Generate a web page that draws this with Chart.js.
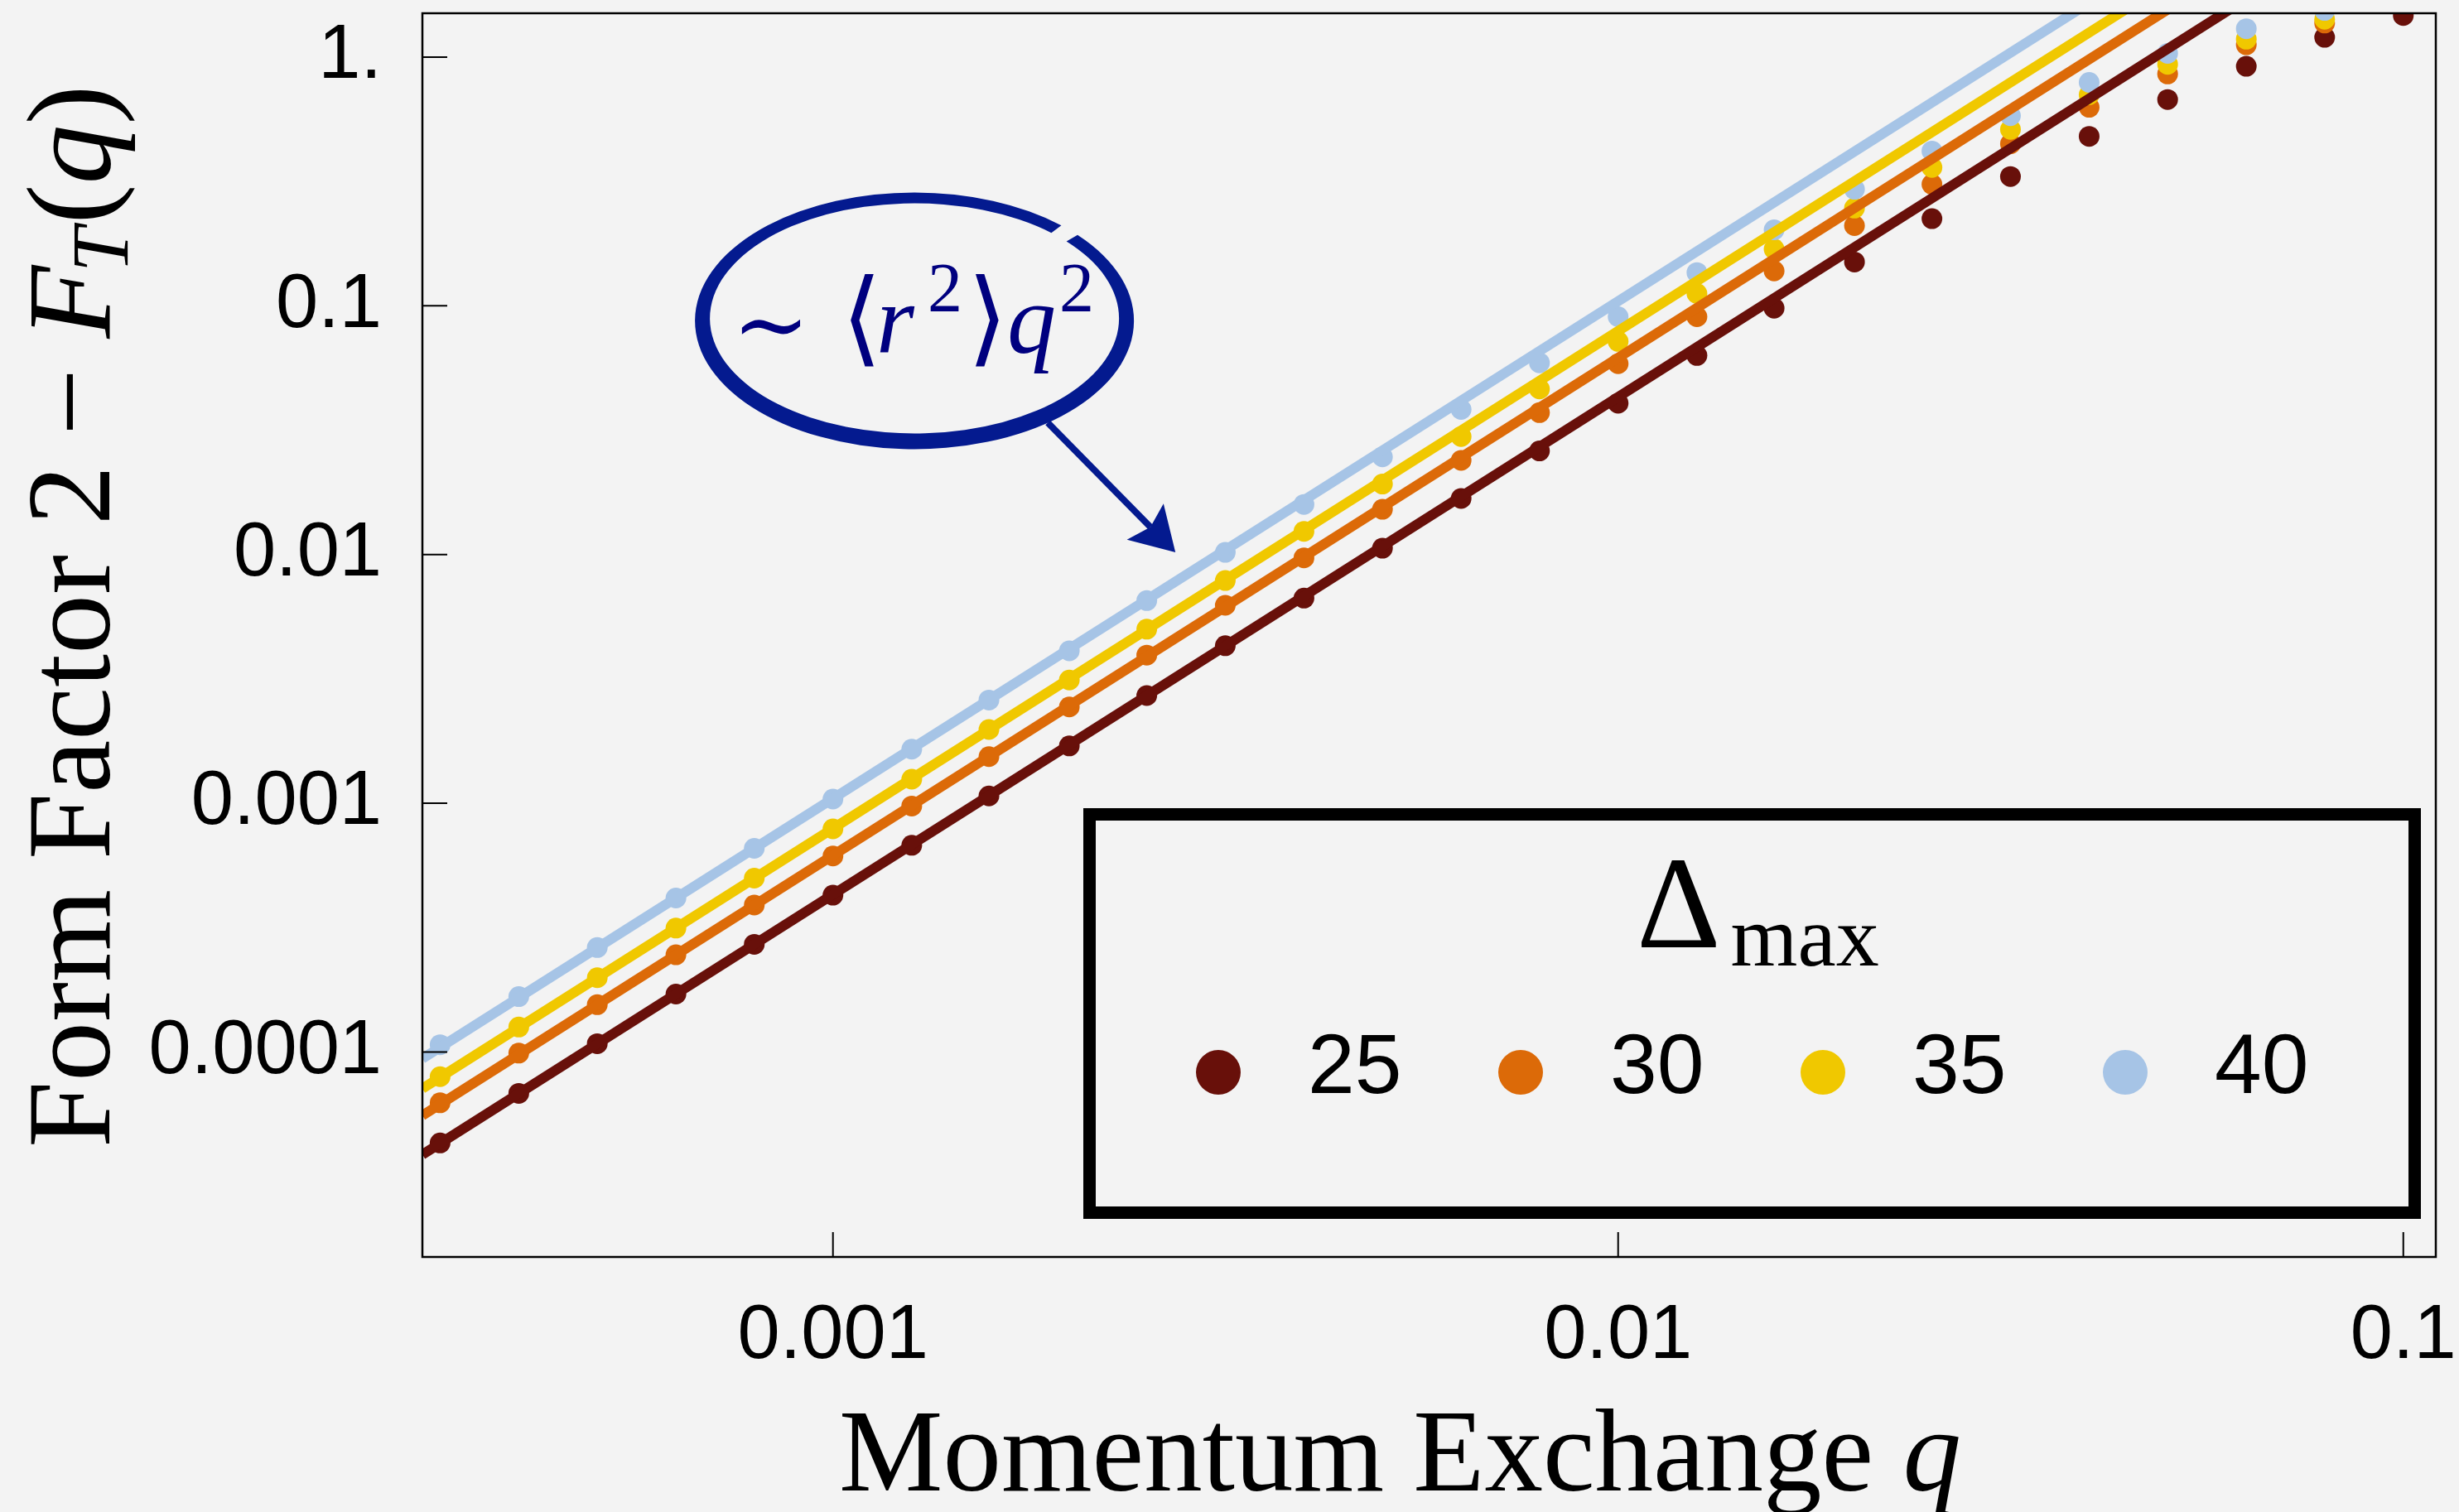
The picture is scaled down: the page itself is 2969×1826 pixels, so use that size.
<!DOCTYPE html>
<html>
<head>
<meta charset="utf-8">
<script src="https://cdn.jsdelivr.net/npm/chart.js@4.4.1/dist/chart.umd.min.js"></script>
<style>
  html, body { margin: 0; padding: 0; background: #f3f3f3; overflow: hidden; }
  #wrap { width: 2969px; height: 1826px; position: relative; }
</style>
</head>
<body>
<div id="wrap"><canvas id="chart"></canvas></div>
<script>
// Form factor vs momentum exchange, log-log, four Delta_max truncations.

// ── Data ────────────────────────────────────────────────────────────────────
const qValues = [
  0.000316, 0.000398, 0.000501, 0.000631, 0.000794, 0.001, 0.00126, 0.00158,
  0.002, 0.00251, 0.00316, 0.00398, 0.00501, 0.00631, 0.00794, 0.01, 0.0126,
  0.0158, 0.02, 0.0251, 0.0316, 0.0398, 0.0501, 0.0631, 0.0794, 0.1,
];
const ff25 = [
  4.31e-5, 6.82e-5, 1.08e-4, 1.71e-4, 2.71e-4, 4.27e-4, 6.78e-4, 1.07e-3,
  1.70e-3, 2.71e-3, 4.30e-3, 6.68e-3, 0.0106, 0.0168, 0.0261, 0.0406, 0.0631,
  0.0978, 0.150, 0.224, 0.331, 0.480, 0.675, 0.918, 1.20, 1.47,
];
const ff30 = [
  6.25e-5, 9.9e-5, 1.55e-4, 2.46e-4, 3.90e-4, 6.14e-4, 9.75e-4, 1.54e-3,
  2.44e-3, 3.94e-3, 6.25e-3, 9.70e-3, 0.0152, 0.0239, 0.0372, 0.0585, 0.0904,
  0.138, 0.210, 0.308, 0.448, 0.628, 0.855, 1.12, 1.37, 1.66,
];
const ff35 = [
  7.96e-5, 1.26e-4, 1.99e-4, 3.15e-4, 5.00e-4, 7.89e-4, 1.25e-3, 1.98e-3,
  3.13e-3, 5.01e-3, 7.86e-3, 0.0124, 0.0192, 0.0298, 0.0463, 0.0719, 0.112,
  0.169, 0.247, 0.360, 0.512, 0.705, 0.935, 1.18, 1.42, 1.72,
];
const ff40 = [
  1.07e-4, 1.67e-4, 2.63e-4, 4.16e-4, 6.59e-4, 1.04e-3, 1.65e-3, 2.60e-3,
  4.10e-3, 6.53e-3, 0.0102, 0.0159, 0.0247, 0.0383, 0.0590, 0.0904, 0.136,
  0.202, 0.294, 0.419, 0.581, 0.791, 1.035, 1.30, 1.54, 1.80,
];

// ~ <r^2> q^2 fit lines, end points only (straight on log-log axes)
const fitQ = [0.0003, 0.11];
const fit25 = [3.87e-5, 5.20];
const fit30 = [5.56e-5, 7.48];
const fit35 = [7.13e-5, 9.58];
const fit40 = [9.41e-5, 12.6];

const seriesLabels = ['25', '30', '35', '40'];
const seriesColors = ['#68100a', '#dc6a08', '#f0c800', '#a6c4e6'];

const xTickValues = [0.001, 0.01, 0.1];
const xTickLabels = ['0.001', '0.01', '0.1'];
const yTickValues = [0.0001, 0.001, 0.01, 0.1, 1];
const yTickLabels = ['0.0001', '0.001', '0.01', '0.1', '1.'];

// annotation anchors in data space
const noteCenter = [0.00127, 0.087];
const arrowTip = [0.00273, 0.0102];

// ── Helpers ─────────────────────────────────────────────────────────────────
const SERIF = '"Liberation Serif", "DejaVu Serif", serif';
const SANS = '"Liberation Sans", Arial, sans-serif';
const noteBlue = '#041a8f';
const noteText = '#00007f';

function serif(size, italic) {
  return `${italic ? 'italic ' : ''}${size}px ${SERIF}`;
}

// draw a list of text runs left to right from (x, y); each run may shift up/down
function drawRuns(ctx, runs, x, y) {
  let cursor = x;
  runs.forEach((r) => {
    ctx.font = r.font;
    ctx.fillText(r.text, cursor + (r.dx || 0), y + (r.dy || 0));
    cursor += ctx.measureText(r.text).width + (r.gap || 0);
  });
  return cursor;
}

function toPoints(xs, ys) {
  return xs.map((q, i) => ({ x: q, y: ys[i] }));
}

// ── Overlays: frame, inward ticks, annotation, legend, axis titles ──────────
function drawFrame(chart) {
  const { ctx, chartArea: a, scales: { x, y } } = chart;
  ctx.save();
  ctx.strokeStyle = '#000';
  ctx.lineWidth = 2.5;
  ctx.strokeRect(a.left, a.top, a.right - a.left, a.bottom - a.top);
  ctx.lineWidth = 2;
  ctx.beginPath();
  x.ticks.forEach((t) => {
    const px = x.getPixelForValue(t.value);
    ctx.moveTo(px, a.bottom);
    ctx.lineTo(px, a.bottom - 30);
  });
  y.ticks.forEach((t) => {
    const py = y.getPixelForValue(t.value);
    ctx.moveTo(a.left, py);
    ctx.lineTo(a.left + 30, py);
  });
  ctx.stroke();
  ctx.restore();
}

function drawAnnotation(chart) {
  const { ctx, scales: { x, y } } = chart;
  const cx = x.getPixelForValue(noteCenter[0]);
  const cy = y.getPixelForValue(noteCenter[1]);
  const tx = x.getPixelForValue(arrowTip[0]);
  const ty = y.getPixelForValue(arrowTip[1]);

  ctx.save();
  // brush-like ellipse: thicker at the bottom, small gap at the upper right
  const a1 = -42 * Math.PI / 180;
  const a2 = 312 * Math.PI / 180;
  ctx.fillStyle = noteBlue;
  ctx.beginPath();
  ctx.ellipse(cx, cy, 265, 155, 0, a1, a2, false);
  ctx.ellipse(cx, cy - 3, 247, 139, 0, a2, a1, true);
  ctx.closePath();
  ctx.fill();

  // arrow from the ellipse rim down to the curves
  const sx = cx + 161, sy = cy + 123;
  const len = Math.hypot(tx - sx, ty - sy);
  const ux = (tx - sx) / len, uy = (ty - sy) / len;
  const nx = -uy, ny = ux;
  const bx = tx - 43 * ux, by = ty - 43 * uy;
  ctx.strokeStyle = noteBlue;
  ctx.lineWidth = 8;
  ctx.beginPath();
  ctx.moveTo(sx, sy);
  ctx.lineTo(bx, by);
  ctx.stroke();
  ctx.beginPath();
  ctx.moveTo(tx, ty);
  ctx.lineTo(tx - 52 * ux + 31 * nx, ty - 52 * uy + 31 * ny);
  ctx.lineTo(bx, by);
  ctx.lineTo(tx - 52 * ux - 31 * nx, ty - 52 * uy - 31 * ny);
  ctx.closePath();
  ctx.fill();

  // ~ <r^2> q^2
  ctx.fillStyle = noteText;
  ctx.textAlign = 'left';
  ctx.textBaseline = 'alphabetic';
  const base = cy + 39;
  const bracket = '125px "DejaVu Serif", "DejaVu Sans", serif';
  ctx.font = '112px "DejaVu Serif", "DejaVu Sans", serif';
  ctx.fillText('\u223C', cx - 220, base + 4);
  ctx.font = bracket;
  ctx.fillText('\u27E8', cx - 88, base);
  ctx.font = serif(118, true);
  ctx.fillText('r', cx - 46, base);
  ctx.font = serif(84, false);
  ctx.fillText('2', cx + 16, base - 50);
  ctx.font = bracket;
  ctx.fillText('\u27E9', cx + 64, base);
  ctx.font = serif(118, true);
  ctx.fillText('q', cx + 112, base);
  ctx.font = serif(84, false);
  ctx.fillText('2', cx + 175, base - 50);
  ctx.restore();
}

function drawLegend(chart) {
  const { ctx, chartArea: a } = chart;
  const left = a.left + 798, top = a.top + 960;
  const w = 1615, h = 496;
  ctx.save();
  ctx.fillStyle = '#f3f3f3';
  ctx.fillRect(left, top, w, h);
  ctx.strokeStyle = '#000';
  ctx.lineWidth = 15;
  ctx.strokeRect(left + 7.5, top + 7.5, w - 15, h - 15);

  // title: Delta with subscript "max"
  ctx.fillStyle = '#000';
  ctx.textAlign = 'left';
  ctx.textBaseline = 'alphabetic';
  ctx.font = serif(158, false);
  ctx.fillText('\u0394', left + 668, top + 168);
  const dw = ctx.measureText('\u0394').width;
  ctx.font = serif(104, false);
  ctx.fillText('max', left + 668 + dw + 12, top + 190);

  // one marker + value per Delta_max series
  ctx.font = `102px ${SANS}`;
  chart.data.datasets.filter((d) => d.isData).forEach((d, i) => {
    const mx = left + 163 + i * 365;
    ctx.fillStyle = d.backgroundColor;
    ctx.beginPath();
    ctx.arc(mx, top + 319, 27, 0, Math.PI * 2);
    ctx.fill();
    ctx.fillStyle = '#000';
    ctx.fillText(d.label, mx + 108, top + 344);
  });
  ctx.restore();
}

function drawAxisTitles(chart) {
  const { ctx, chartArea: a } = chart;
  ctx.save();
  ctx.fillStyle = '#000';
  ctx.textAlign = 'left';
  ctx.textBaseline = 'alphabetic';

  // x title, centred a little left of the plot centre as in the original
  ctx.font = serif(141, false);
  const wMain = ctx.measureText('Momentum Exchange ').width;
  ctx.font = serif(141, true);
  const wQ = ctx.measureText('q').width;
  const xStart = (a.left + a.right) / 2 - 35 - (wMain + wQ) / 2;
  drawRuns(ctx, [
    { text: 'Momentum Exchange ', font: serif(141, false) },
    { text: 'q', font: serif(141, true) },
  ], xStart, 1800);

  // y title, rotated, reading bottom to top
  ctx.translate(132, 1386);
  ctx.rotate(-Math.PI / 2);
  drawRuns(ctx, [
    { text: 'Form Factor 2 ', font: serif(144, false) },
    { text: '\u2212 ', font: serif(144, false) },
    { text: 'F', font: serif(144, true), gap: -8 },
    { text: 'T', font: serif(98, true), dy: 22, gap: 4 },
    { text: '(', font: serif(144, false) },
    { text: 'q', font: serif(144, true) },
    { text: ')', font: serif(144, false) },
  ], 0, 0);
  ctx.restore();
}

const overlayPlugin = {
  id: 'overlays',
  afterDatasetsDraw(chart) {
    drawFrame(chart);
    drawAnnotation(chart);
    drawLegend(chart);
  },
  afterDraw(chart) {
    drawAxisTitles(chart);
  },
};

// ── Chart ───────────────────────────────────────────────────────────────────
const dataSeries = [ff25, ff30, ff35, ff40];
const fitSeries = [fit25, fit30, fit35, fit40];

const datasets = [];
// fit lines drawn above the dots (lower order = drawn later)
fitSeries.forEach((f, i) => {
  datasets.push({
    label: 'fit ' + seriesLabels[i],
    data: toPoints(fitQ, f),
    showLine: true,
    borderColor: seriesColors[i],
    borderWidth: 12,
    pointRadius: 0,
    clip: 0,
    order: 1,
  });
});
dataSeries.forEach((s, i) => {
  datasets.push({
    label: seriesLabels[i],
    isData: true,
    data: toPoints(qValues, s),
    showLine: false,
    backgroundColor: seriesColors[i],
    pointBackgroundColor: seriesColors[i],
    pointBorderWidth: 0,
    pointRadius: 12.5,
    clip: 0,
    order: 10 - i,
  });
});

new Chart(document.getElementById('chart'), {
  type: 'scatter',
  data: { datasets },
  plugins: [overlayPlugin],
  options: {
    responsive: true,
    maintainAspectRatio: false,
    animation: false,
    events: [],
    layout: { padding: { left: 0, top: 16, right: 28, bottom: 0 } },
    plugins: {
      legend: { display: false },
      tooltip: { enabled: false },
    },
    scales: {
      x: {
        type: 'logarithmic',
        min: 0.0003,
        max: 0.11,
        grid: { display: false, drawTicks: false },
        border: { display: false },
        afterBuildTicks: (scale) => { scale.ticks = xTickValues.map((v) => ({ value: v })); },
        afterFit: (scale) => {
          scale.height = 308;
          scale.paddingLeft = 0;
          scale.paddingRight = 0;
        },
        ticks: {
          color: '#000',
          font: { size: 92, family: SANS },
          padding: 41,
          maxRotation: 0,
          autoSkip: false,
          callback: (_v, i) => xTickLabels[i],
        },
      },
      y: {
        type: 'logarithmic',
        min: 1.5e-5,
        max: 1.5,
        grid: { display: false, drawTicks: false },
        border: { display: false },
        afterBuildTicks: (scale) => { scale.ticks = yTickValues.map((v) => ({ value: v })); },
        afterFit: (scale) => {
          scale.width = 510;
          scale.paddingTop = 0;
          scale.paddingBottom = 0;
        },
        ticks: {
          color: '#000',
          font: { size: 92, family: SANS },
          padding: 49,
          autoSkip: false,
          callback: (_v, i) => yTickLabels[i],
        },
      },
    },
  },
});
</script>
</body>
</html>
